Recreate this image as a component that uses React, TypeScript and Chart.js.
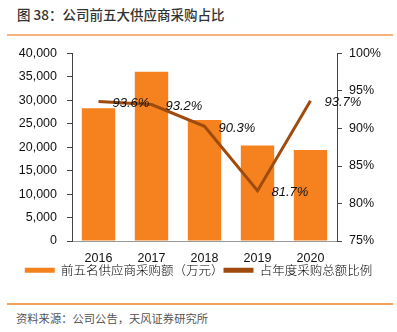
import React, { useEffect, useRef } from "react";
import { Chart, registerables } from "chart.js";

Chart.register(...registerables);

const years = ["2016", "2017", "2018", "2019", "2020"];
const purchaseAmount = [28300, 36100, 25800, 20400, 19400];
const purchaseRatio = [93.6, 93.2, 90.3, 81.7, 93.7];
const leftTicks = [0, 5000, 10000, 15000, 20000, 25000, 30000, 35000, 40000];
const rightTicks = [75, 80, 85, 90, 95, 100];

const barColor = "#F5821F";
const lineColor = "#9E4B0D";
const tickFont = { family: "'Liberation Sans', Arial, sans-serif", size: 12.5 };

const pointLabels = {
  id: "pointLabels",
  afterDatasetsDraw(chart: any) {
    const meta = chart.getDatasetMeta(1);
    const ctx = chart.ctx;
    ctx.save();
    ctx.font = "italic 13px 'Liberation Sans', Arial, sans-serif";
    ctx.fillStyle = "#111";
    ctx.textAlign = "left";
    ctx.textBaseline = "middle";
    meta.data.forEach((pt: any, i: number) => {
      ctx.fillText(purchaseRatio[i].toFixed(1) + "%", pt.x + 14, pt.y + 2);
    });
    ctx.restore();
  },
};

export default function App() {
  const ref = useRef<HTMLCanvasElement>(null);
  useEffect(() => {
    if (!ref.current) return;
    const chart = new Chart(ref.current, {
      type: "bar",
      data: {
        labels: years,
        datasets: [
          {
            type: "bar",
            label: "前五名供应商采购额（万元）",
            data: purchaseAmount,
            backgroundColor: barColor,
            yAxisID: "y",
            categoryPercentage: 0.63,
            barPercentage: 1,
            order: 2,
          },
          {
            type: "line",
            label: "占年度采购总额比例",
            data: purchaseRatio,
            borderColor: lineColor,
            backgroundColor: lineColor,
            borderWidth: 3,
            pointRadius: 0,
            tension: 0,
            yAxisID: "y1",
            order: 1,
          },
        ],
      } as any,
      options: {
        animation: false,
        responsive: false,
        maintainAspectRatio: false,
        layout: { padding: { top: 13, bottom: 0, left: 0, right: 0 } },
        plugins: {
          tooltip: { enabled: false },
          legend: {
            position: "bottom",
            maxHeight: 18,
            labels: {
              boxWidth: 30,
              boxHeight: 5,
              padding: 0,
              color: "#222",
              font: { family: "'Noto Sans CJK SC', sans-serif", size: 12.5, weight: "300" },
              generateLabels: (c: any) =>
                c.data.datasets.map((d: any, i: number) => ({
                  text: d.label,
                  fillStyle: i === 0 ? barColor : lineColor,
                  strokeStyle: i === 0 ? barColor : lineColor,
                  lineWidth: 0,
                  datasetIndex: i,
                })),
            },
          },
        },
        scales: {
          x: {
            grid: { display: false, drawTicks: false },
            border: { display: true, color: "#999", width: 1 },
            ticks: { color: "#111", font: tickFont, padding: 10 },
            afterFit: (s: any) => { s.height = 23; },
          },
          y: {
            position: "left",
            min: 0,
            max: 40000,
            afterBuildTicks: (s: any) => { s.ticks = leftTicks.map((v) => ({ value: v })); },
            grid: { drawOnChartArea: false, drawTicks: true, tickLength: 5, color: "#444" },
            border: { display: true, color: "#444", width: 1 },
            ticks: {
              color: "#111",
              font: tickFont,
              padding: 10,
              callback: (v: any) => Number(v).toLocaleString("en-US"),
            },
            afterFit: (s: any) => { s.width = 72; },
          },
          y1: {
            position: "right",
            min: 75,
            max: 100,
            afterBuildTicks: (s: any) => { s.ticks = rightTicks.map((v) => ({ value: v })); },
            grid: { drawOnChartArea: false, drawTicks: true, tickLength: 5, color: "#444" },
            border: { display: true, color: "#444", width: 1 },
            ticks: {
              color: "#111",
              font: tickFont,
              padding: 7,
              callback: (v: any) => v + "%",
            },
            afterFit: (s: any) => { s.width = 60; },
          },
        },
      } as any,
      plugins: [pointLabels],
    });
    return () => chart.destroy();
  }, []);

  return (
    <div
      style={{
        position: "fixed",
        left: 0,
        top: 0,
        width: 397,
        height: 332,
        background: "#fff",
        fontFamily: "'Noto Sans CJK SC', sans-serif",
      }}
    >
      <div
        style={{
          position: "absolute",
          left: 17,
          top: 4,
          fontSize: 13.5,
          fontWeight: 500,
          color: "#333",
          lineHeight: "20px",
          whiteSpace: "nowrap",
        }}
      >
        图 38：公司前五大供应商采购占比
      </div>
      <div
        style={{
          position: "absolute",
          left: 7,
          top: 34,
          width: 386,
          height: 2,
          background: "#F5B27C",
        }}
      />
      <canvas
        ref={ref}
        width={397}
        height={246}
        style={{ position: "absolute", left: 0, top: 36, width: 397, height: 246 }}
      />
      <div
        style={{
          position: "absolute",
          left: 7,
          top: 303,
          width: 386,
          height: 1.5,
          background: "#F5A05A",
        }}
      />
      <div
        style={{
          position: "absolute",
          left: 16,
          top: 309,
          fontSize: 11.3,
          color: "#555",
          lineHeight: "18px",
          whiteSpace: "nowrap",
        }}
      >
        资料来源：公司公告，天风证券研究所
      </div>
    </div>
  );
}
